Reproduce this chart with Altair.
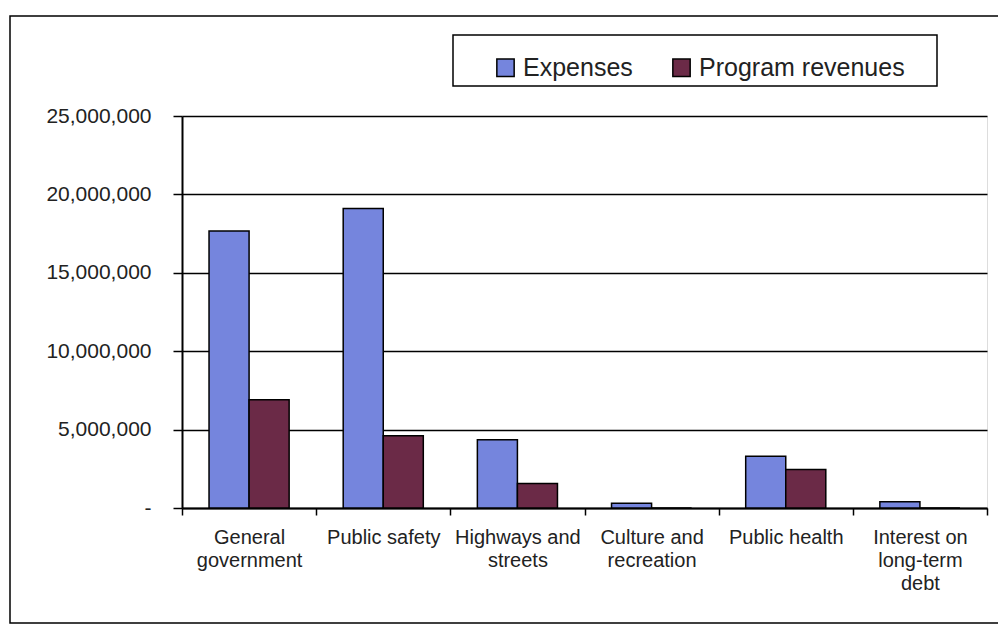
import altair as alt
import pandas as pd

categories = [
    "General\ngovernment",
    "Public safety",
    "Highways and\nstreets",
    "Culture and\nrecreation",
    "Public health",
    "Interest on\nlong-term\ndebt",
]
series = ["Expenses", "Program revenues"]
expenses = [17660000, 19100000, 4360000, 300000, 3300000, 400000]
revenues = [6900000, 4600000, 1570000, 0, 2450000, 0]
y_ticks = [0, 5000000, 10000000, 15000000, 20000000, 25000000]
colors = ["#7585dd", "#6b2a47"]

rows = []
for c, e, r in zip(categories, expenses, revenues):
    rows.append({"category": c, "series": series[0], "value": e})
    rows.append({"category": c, "series": series[1], "value": r})
df = pd.DataFrame(rows)

FONT = "Liberation Sans"

bars = alt.Chart(df).mark_bar(stroke="black", strokeWidth=1.5).encode(
    x=alt.X(
        "category:N",
        sort=categories,
        scale=alt.Scale(paddingInner=0, paddingOuter=0),
        axis=alt.Axis(
            title=None,
            labelAngle=0,
            labelExpr="split(datum.label, '\\n')",
            labelFontSize=20,
            labelLineHeight=23,
            labelPadding=12,
            labelLimit=300,
            labelColor="#222222",
            labelFont=FONT,
            tickBand="extent",
            tickSize=7,
            tickWidth=1.5,
            tickColor="black",
            domainColor="black",
            domainWidth=2,
            grid=False,
        ),
    ),
    xOffset=alt.XOffset(
        "series:N",
        sort=series,
        scale=alt.Scale(paddingInner=0, paddingOuter=0.675),
    ),
    y=alt.Y(
        "value:Q",
        scale=alt.Scale(domain=[0, 25000000]),
        axis=alt.Axis(
            title=None,
            values=y_ticks,
            labelExpr="datum.value == 0 ? '-' : format(datum.value, ',')",
            labelFontSize=21,
            labelPadding=22,
            labelColor="#222222",
            labelFont=FONT,
            tickSize=9,
            tickWidth=1.5,
            tickColor="black",
            domainColor="black",
            domainWidth=2,
            grid=True,
            gridColor="black",
            gridWidth=1.5,
        ),
    ),
    color=alt.Color(
        "series:N",
        sort=series,
        scale=alt.Scale(domain=series, range=colors),
        legend=alt.Legend(
            title=None,
            orient="none",
            direction="horizontal",
            legendX=311,
            legendY=-61,
            padding=0,
            symbolType="square",
            symbolSize=300,
            symbolStrokeColor="black",
            symbolStrokeWidth=1.5,
            symbolOpacity=1,
            labelFontSize=25,
            labelFont=FONT,
            labelColor="#222222",
            labelOffset=5,
            labelLimit=400,
            columnPadding=36,
        ),
    ),
)

frame_data = alt.Data(values=[{"k": 1}])

outer_frame = alt.Chart(frame_data).mark_rect(
    fill=None, stroke="black", strokeWidth=1.5
).encode(
    x=alt.value(-172), x2=alt.value(830), y=alt.value(-100), y2=alt.value(507)
)

legend_box = alt.Chart(frame_data).mark_rect(
    fill=None, stroke="black", strokeWidth=1.5
).encode(
    x=alt.value(271), x2=alt.value(755), y=alt.value(-81), y2=alt.value(-30)
)

chart = (
    alt.layer(outer_frame, legend_box, bars)
    .properties(
        width=805,
        height=392,
        autosize=alt.AutoSizeParams(type="none"),
        padding={"left": 174, "top": 108, "right": 11, "bottom": 116},
    )
    .configure_view(stroke="black", strokeWidth=1.5)
    .configure(background="white", font=FONT)
)

chart.save("out.html", embed_options={"renderer": "svg", "actions": False})
